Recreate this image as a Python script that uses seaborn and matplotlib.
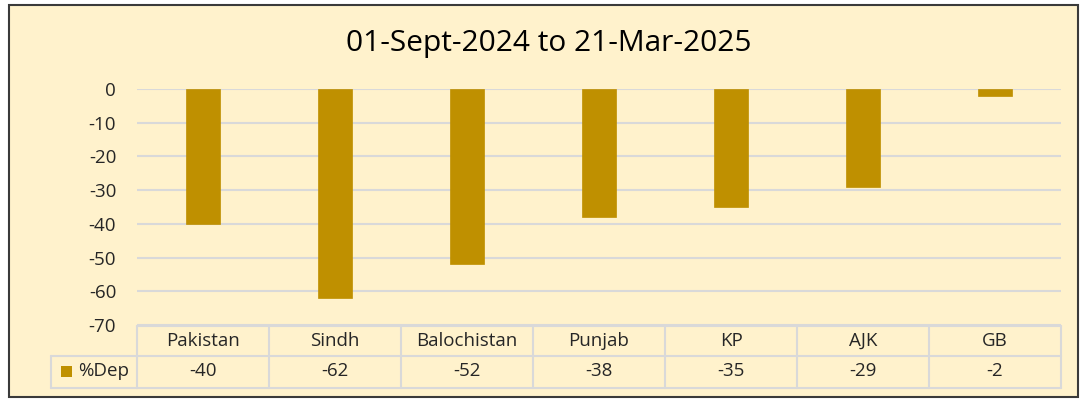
import matplotlib
matplotlib.use("Agg")
import matplotlib.pyplot as plt
import matplotlib.transforms as mtransforms
from matplotlib.patches import Rectangle
from matplotlib.lines import Line2D
import seaborn as sns
import pandas as pd

# ---- data ----
regions = ["Pakistan", "Sindh", "Balochistan", "Punjab", "KP", "AJK", "GB"]
dep_values = [-40, -62, -52, -38, -35, -29, -2]
series_name = "%Dep"
title_text = "01-Sept-2024 to 21-Mar-2025"
y_ticks = [0, -10, -20, -30, -40, -50, -60, -70]

BG = "#FFF2CC"
BAR = "#BF9000"
GRID = "#D9D9D9"
TXT = "#262626"
W, H = 1080, 400

sns.set_theme(style="white")
plt.rcParams["font.family"] = ["Open Sans", "DejaVu Sans"]

fig = plt.figure(figsize=(W / 100, H / 100), dpi=100)
fig.patch.set_facecolor("white")

def fx(x):
    return x / W

def fy(y):
    return 1 - y / H

# chart area background + border
fig.add_artist(Rectangle((fx(9), fy(397)), fx(1078) - fx(9), fy(5) - fy(397),
                         transform=fig.transFigure, facecolor=BG,
                         edgecolor="#3a3a3a", linewidth=1.5, zorder=0))

ax = fig.add_axes([fx(137), fy(325), fx(1061) - fx(137), fy(89) - fy(325)])
ax.set_facecolor("none")

df = pd.DataFrame({"region": regions, "value": dep_values})
sns.barplot(data=df, x="region", y="value", order=regions, color=BAR,
            saturation=1, width=0.265, ax=ax, zorder=3,
            edgecolor=BAR, linewidth=0.5)

ax.set_ylim(-70, 0)
ax.set_xlim(-0.5, len(regions) - 0.5)
ax.set_yticks(y_ticks)
ax.set_yticklabels([str(t) for t in y_ticks])
ax.tick_params(axis="y", length=0, pad=15, labelsize=13.5, labelcolor=TXT)
ax.tick_params(axis="x", length=0, labelbottom=False)
ax.set_xlabel("")
ax.set_ylabel("")
for s in ax.spines.values():
    s.set_visible(False)
ax.yaxis.grid(True, color=GRID, linewidth=1.5, zorder=0)
ax.set_axisbelow(True)

# title
fig.text(fx(549), fy(44), title_text, ha="center", va="center",
         fontsize=21.5, color="black")

# ---- data table below the axis ----
bt = mtransforms.blended_transform_factory(ax.transData, fig.transFigure)
n = len(regions)
y_top, y_mid, y_bot = fy(326), fy(356), fy(388)
lw = 1.5
fig.add_artist(Line2D([-0.5, n - 0.5], [y_top, y_top], transform=bt, color=GRID, lw=lw))
for yy in (y_mid, y_bot):
    fig.add_artist(Line2D([fx(51), fx(137)], [yy, yy], transform=fig.transFigure, color=GRID, lw=lw))
    fig.add_artist(Line2D([-0.5, n - 0.5], [yy, yy], transform=bt, color=GRID, lw=lw))
fig.add_artist(Line2D([fx(51), fx(51)], [y_mid, y_bot], transform=fig.transFigure, color=GRID, lw=lw))
for i in range(n + 1):
    fig.add_artist(Line2D([i - 0.5, i - 0.5], [y_top, y_bot], transform=bt, color=GRID, lw=lw))
for i, (r, v) in enumerate(zip(regions, dep_values)):
    fig.text(i, fy(341), r, transform=bt, ha="center", va="center",
             fontsize=13.5, color=TXT)
    fig.text(i, fy(371), str(v), transform=bt, ha="center", va="center",
             fontsize=13.5, color=TXT)
# legend key
fig.add_artist(Rectangle((fx(61), fy(377)), fx(11), fy(366) - fy(377),
                         transform=fig.transFigure, facecolor=BAR, edgecolor="none"))
fig.text(fx(78), fy(371), series_name, ha="left", va="center",
         fontsize=13.5, color=TXT)

fig.savefig("out.png", dpi=100, facecolor=fig.get_facecolor())
